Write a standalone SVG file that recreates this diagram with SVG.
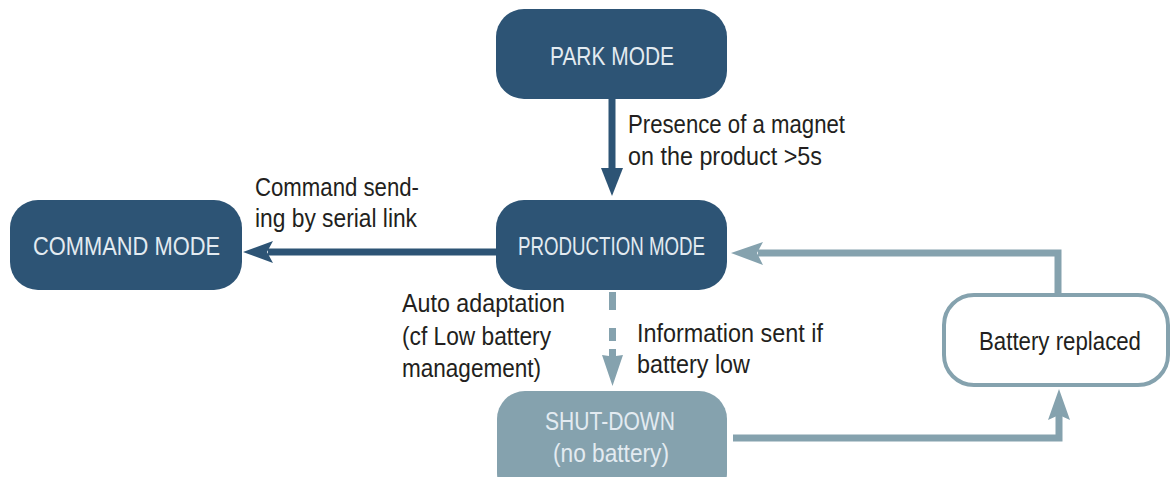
<svg xmlns="http://www.w3.org/2000/svg" width="1170" height="477" viewBox="0 0 1170 477">
<style>
.dark{fill:#2d5475}
.light{fill:#85a2ae}
.bt{font-family:"Liberation Sans",Arial,sans-serif;font-size:26px;fill:#e3ebf1}
.lb{font-family:"Liberation Sans",Arial,sans-serif;font-size:25px;fill:#231f20}
</style>
<rect width="1170" height="477" fill="#ffffff"/>
<g id="park">
<rect class="dark" x="496" y="9" width="231" height="90" rx="28"/>
<text class="bt" x="550" y="65" textLength="124" lengthAdjust="spacingAndGlyphs">PARK MODE</text>
</g>
<g id="production">
<rect class="dark" x="496" y="200" width="231" height="90" rx="28"/>
<text class="bt" x="518" y="255" textLength="187" lengthAdjust="spacingAndGlyphs">PRODUCTION MODE</text>
</g>
<g id="command">
<rect class="dark" x="10" y="200" width="232" height="90" rx="28"/>
<text class="bt" x="33" y="255" textLength="187" lengthAdjust="spacingAndGlyphs">COMMAND MODE</text>
</g>
<g id="shutdown">
<rect class="light" x="497" y="391" width="230" height="110" rx="28"/>
<text class="bt" x="545" y="430" textLength="130" lengthAdjust="spacingAndGlyphs">SHUT-DOWN</text>
<text class="bt" x="553" y="462" textLength="116" lengthAdjust="spacingAndGlyphs">(no battery)</text>
</g>
<g id="battery">
<rect x="944" y="295" width="224" height="90" rx="30" fill="#ffffff" stroke="#85a2ae" stroke-width="4"/>
<text class="lb" x="979" y="350" textLength="162" lengthAdjust="spacingAndGlyphs">Battery replaced</text>
</g>
<g id="connectors">
<line x1="612" y1="99" x2="612" y2="170" stroke="#2d5475" stroke-width="7"/>
<path d="M601,168 L623,168 L612,196 Z" fill="#2d5475"/>
<line x1="496" y1="252" x2="268" y2="252" stroke="#2d5475" stroke-width="7"/>
<path d="M243,252 L273,241 L267,252 L273,263 Z" fill="#2d5475"/>
<rect x="609" y="292" width="7" height="18" fill="#85a2ae"/>
<rect x="609" y="328" width="7" height="13" fill="#85a2ae"/>
<path d="M609,349 L616,349 L616,356 L623,355 L612.5,386 L602,355 L609,356 Z" fill="#85a2ae"/>
<polyline points="733,438 1059,438 1059,415" fill="none" stroke="#85a2ae" stroke-width="7"/>
<path d="M1059,389 L1070,420 L1059,415 L1048,420 Z" fill="#85a2ae"/>
<polyline points="1058,293 1058,253 758,253" fill="none" stroke="#85a2ae" stroke-width="7"/>
<path d="M731,253 L763,242 L757,253 L763,265 Z" fill="#85a2ae"/>
</g>
<g id="labels">
<text class="lb" x="628" y="133" textLength="217" lengthAdjust="spacingAndGlyphs">Presence of a magnet</text>
<text class="lb" x="628" y="165" textLength="194" lengthAdjust="spacingAndGlyphs">on the product &gt;5s</text>
<text class="lb" x="255" y="196" textLength="164" lengthAdjust="spacingAndGlyphs">Command send-</text>
<text class="lb" x="255" y="227" textLength="162" lengthAdjust="spacingAndGlyphs">ing by serial link</text>
<text class="lb" x="402" y="312" textLength="163" lengthAdjust="spacingAndGlyphs">Auto adaptation</text>
<text class="lb" x="402" y="345" textLength="149" lengthAdjust="spacingAndGlyphs">(cf Low battery</text>
<text class="lb" x="402" y="377" textLength="139" lengthAdjust="spacingAndGlyphs">management)</text>
<text class="lb" x="637" y="342" textLength="186" lengthAdjust="spacingAndGlyphs">Information sent if</text>
<text class="lb" x="637" y="373" textLength="113" lengthAdjust="spacingAndGlyphs">battery low</text>
</g>
</svg>
